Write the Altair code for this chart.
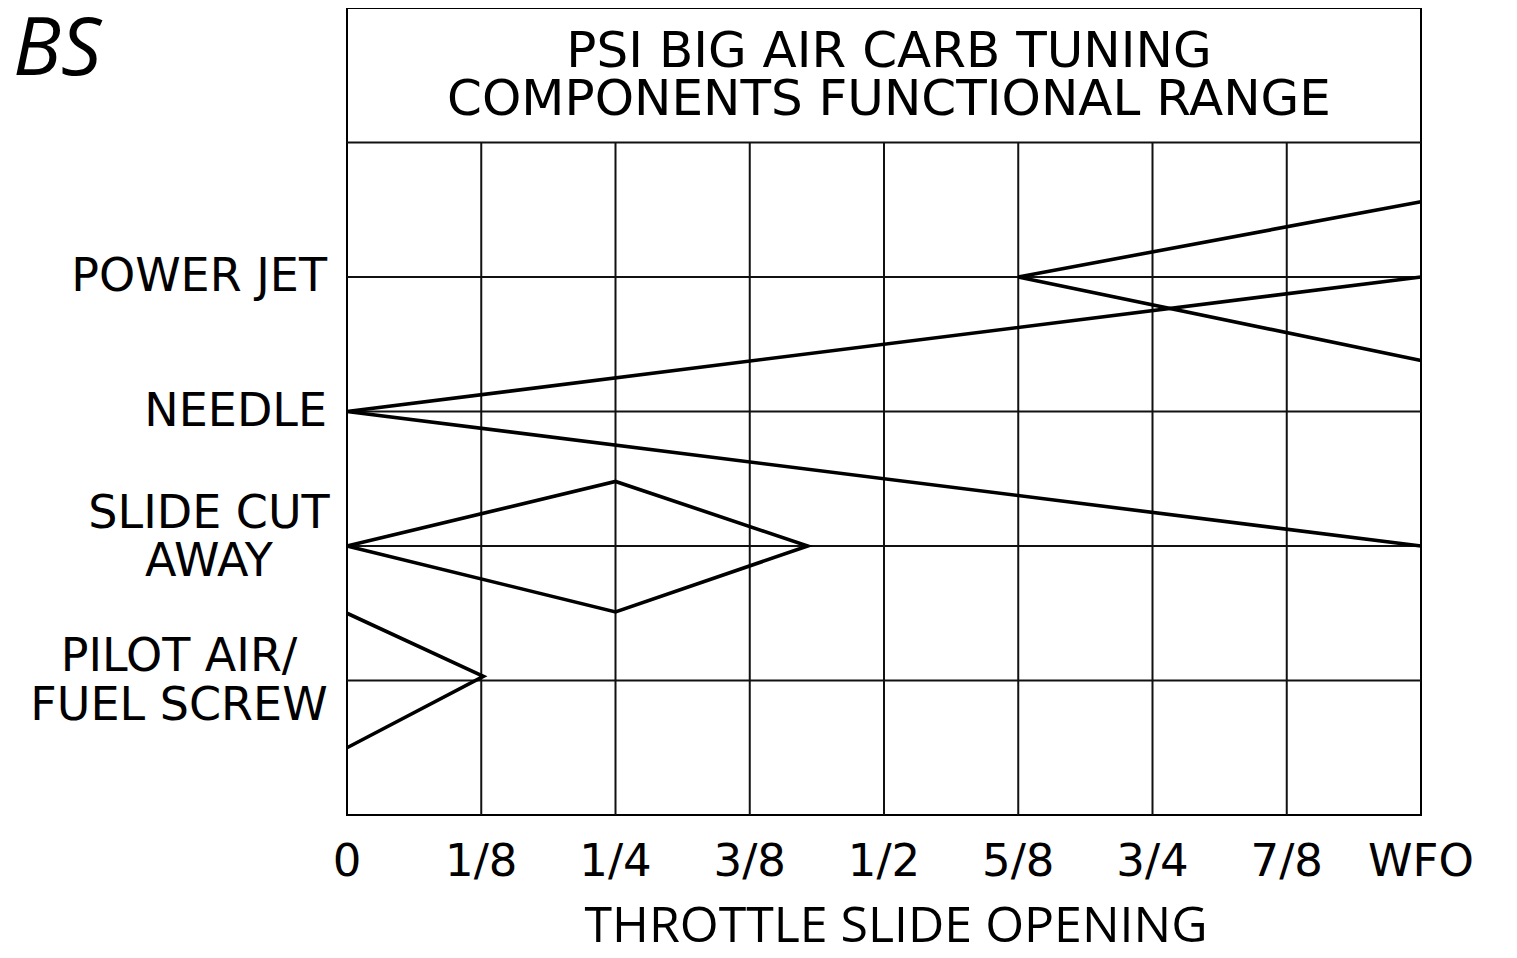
import altair as alt
import pandas as pd

# ---------------- data ----------------
x_ticks = [0, 0.125, 0.25, 0.375, 0.5, 0.625, 0.75, 0.875, 1.0]
x_tick_labels = ["0", "1/8", "1/4", "3/8", "1/2", "5/8", "3/4", "7/8", "WFO"]
grid_x = [0.125, 0.25, 0.375, 0.5, 0.625, 0.75, 0.875]
grid_y = [1, 2, 3, 4, 5]

single_labels = ["NEEDLE", "POWER JET"]
single_levels = [3, 4]
slide_label = "SLIDE CUT\nAWAY"
slide_level = 2
pilot_label = "PILOT AIR/\nFUEL SCREW"
pilot_level = 1

# component range outlines (throttle fraction, component level)
pilot_x = [0, 0.127, 0]
pilot_y = [1.5, 1.03, 0.5]
slide_x = [0, 0.25, 0.429, 0.25, 0]
slide_y = [2, 2.48, 2, 1.51, 2]
needle_x = [1, 0, 1]
needle_y = [4, 3, 2]
jet_x = [1, 0.625, 1]
jet_y = [4.56, 4, 3.38]

title_lines = ["PSI BIG AIR CARB TUNING", "COMPONENTS FUNCTIONAL RANGE"]
x_title = "THROTTLE SLIDE OPENING"
logo = "BS"

# ---------------- build tables ----------------
rows = []
for name, xs, ys in [("pilot", pilot_x, pilot_y), ("slide", slide_x, slide_y),
                     ("needle", needle_x, needle_y), ("jet", jet_x, jet_y)]:
    for i, (a, b) in enumerate(zip(xs, ys)):
        rows.append({"series": name, "order": i, "x": a, "y": b})
paths = pd.DataFrame(rows)

vgrid = pd.DataFrame({"gx": grid_x, "y0": [grid_y[0] - 1] * len(grid_x), "y1": [grid_y[-1]] * len(grid_x)})
hgrid = pd.DataFrame({"gy": grid_y, "x0": [x_ticks[0]] * len(grid_y), "x1": [x_ticks[-1]] * len(grid_y)})
ticks_df = pd.DataFrame({"x": x_ticks, "t": x_tick_labels})

xscale = alt.Scale(domain=[0, 1], nice=False, zero=False)
yscale = alt.Scale(domain=[0, 6], nice=False, zero=False)

FONT = "DejaVu Sans"


def X(field):
    return alt.X(field, type="quantitative", scale=xscale, axis=None)


def Y(field):
    return alt.Y(field, type="quantitative", scale=yscale, axis=None)


lines = alt.Chart(paths).mark_line(color="black", strokeWidth=3.6, strokeJoin="miter").encode(
    x=X("x"), y=Y("y"), detail="series:N", order="order:Q",
)

vrules = alt.Chart(vgrid).mark_rule(color="#111111", strokeWidth=2).encode(
    x=X("gx"), y=Y("y0"), y2="y1:Q",
)
hrules = alt.Chart(hgrid).mark_rule(color="#111111", strokeWidth=2).encode(
    y=Y("gy"), x=X("x0"), x2="x1:Q",
)

tick_txt = alt.Chart(ticks_df).mark_text(
    font=FONT, fontSize=45, align="center", baseline="middle", color="black",
).encode(x=X("x"), y=alt.value(854), text="t:N")

title_df = pd.DataFrame({"t": ["\n".join(title_lines)], "x": [0.5], "y": [5.5]})
title_txt = alt.Chart(title_df).mark_text(
    font=FONT, fontSize=50, lineBreak="\n", lineHeight=48, align="center",
    baseline="middle", color="black", dy=-23, dx=5,
).encode(x=X("x"), y=Y("y"), text="t:N")

single_df = pd.DataFrame({"t": single_labels, "y": single_levels})
single_txt = alt.Chart(single_df).mark_text(
    font=FONT, fontSize=46, align="right", baseline="middle", color="black",
).encode(x=alt.value(-20), y=Y("y"), text="t:N")

slide_df = pd.DataFrame({"t": [slide_label], "y": [slide_level]})
slide_txt = alt.Chart(slide_df).mark_text(
    font=FONT, fontSize=46, lineBreak="\n", lineHeight=48, align="center",
    baseline="middle", color="black", dy=-32,
).encode(x=alt.value(-138), y=Y("y"), text="t:N")

pilot_df = pd.DataFrame({"t": [pilot_label], "y": [pilot_level]})
pilot_txt = alt.Chart(pilot_df).mark_text(
    font=FONT, fontSize=46, lineBreak="\n", lineHeight=49, align="center",
    baseline="middle", color="black", dy=-24,
).encode(x=alt.value(-168), y=Y("y"), text="t:N")

xt_df = pd.DataFrame({"t": [x_title], "x": [0.5]})
xt_txt = alt.Chart(xt_df).mark_text(
    font="Open Sans", fontSize=50, align="center", baseline="alphabetic",
    color="black", dx=12,
).encode(x=X("x"), y=alt.value(934), text="t:N")

logo_df = pd.DataFrame({"t": [logo]})
logo_txt = alt.Chart(logo_df).mark_text(
    font="Open Sans", fontSize=80, fontStyle="italic", align="left",
    baseline="alphabetic", color="black",
).encode(x=alt.value(-334), y=alt.value(67), text="t:N")

chart = alt.layer(
    vrules, hrules, lines, tick_txt, title_txt, single_txt, slide_txt, pilot_txt, xt_txt, logo_txt
).properties(
    width=1074, height=807,
    autosize=alt.AutoSizeParams(type="none"),
    padding={"left": 339, "top": 0, "right": 80, "bottom": 135},
).configure_view(stroke="black", strokeWidth=2)

chart.save("out.html", embed_options={"renderer": "svg", "actions": False})
